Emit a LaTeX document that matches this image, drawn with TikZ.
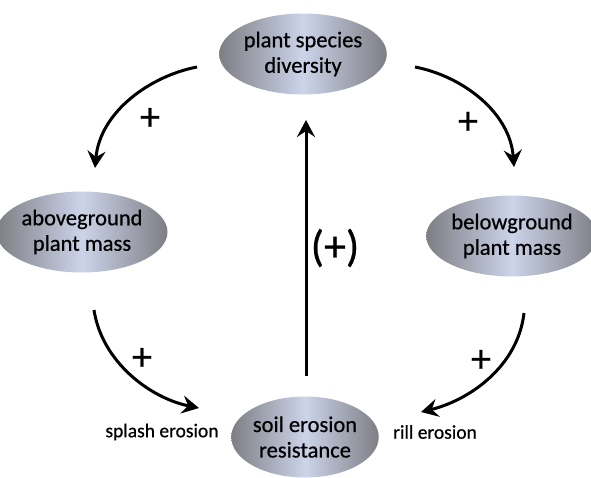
\documentclass[tikz,border=0pt]{standalone}
\usepackage{fontspec}
\setmainfont{Carlito}[FakeBold=0.6]
\usetikzlibrary{shapes.geometric,arrows.meta}
\definecolor{edgegray}{RGB}{126,126,132}
\definecolor{midsteel}{RGB}{204,212,234}
\tikzset{
  blob/.style={ellipse, draw=none, inner sep=0pt,
    minimum width=142pt, minimum height=81pt,
    left color=edgegray, right color=edgegray, middle color=midsteel,
    align=center, font=\fontsize{22.5}{25.5}\selectfont},
  link/.style={line width=3pt, -{Stealth[length=17pt,width=18pt,inset=6pt]}},
  sign/.style={font=\fontsize{40}{40}\selectfont},
  side/.style={font=\fontsize{19.5}{22}\selectfont}
}
\begin{document}
\begin{tikzpicture}[x=1pt,y=-1pt]
  \useasboundingbox (0,0) rectangle (591,477);
  % the four ellipses
  \node[blob] (div)   at (303,54)  {plant species\\diversity};
  \node[blob] (above) at (82,232)  {aboveground\\plant mass};
  \node[blob] (below) at (512,236) {belowground\\plant mass};
  \node[blob] (soil)  at (305,437) {soil erosion\\resistance};
  % arrow ends
  \coordinate (tlS) at (197,67);  \coordinate (tlE) at (95,168);
  \coordinate (trS) at (415,67);  \coordinate (trE) at (514,167);
  \coordinate (blS) at (94,310);  \coordinate (blE) at (199,408);
  \coordinate (brS) at (524,313); \coordinate (brE) at (421,412);
  \coordinate (upS) at (306,376); \coordinate (upE) at (306,120);
  % curved links
  \draw[link] (tlS) .. controls (150,76) and (100,112) .. (tlE);
  \draw[link] (trS) .. controls (462,76) and (510,112) .. (trE);
  \draw[link] (blS) .. controls (102,362) and (150,398) .. (blE);
  \draw[link] (brS) .. controls (518,366) and (470,400) .. (brE);
  \draw[link] (upS) -- (upE);
  % signs
  \node[sign] (p1) at (150,119) {+};
  \node[sign] (p2) at (468,123) {+};
  \node[sign] (p3) at (142,359) {+};
  \node[sign] (p4) at (481,361) {+};
  \node[font=\fontsize{44}{44}\selectfont] (p5) at (335,248) {(+)};
  % side labels
  \node[side] (splash) at (162,432) {splash erosion};
  \node[side] (rill)   at (435,432) {rill erosion};
\end{tikzpicture}
\end{document}
